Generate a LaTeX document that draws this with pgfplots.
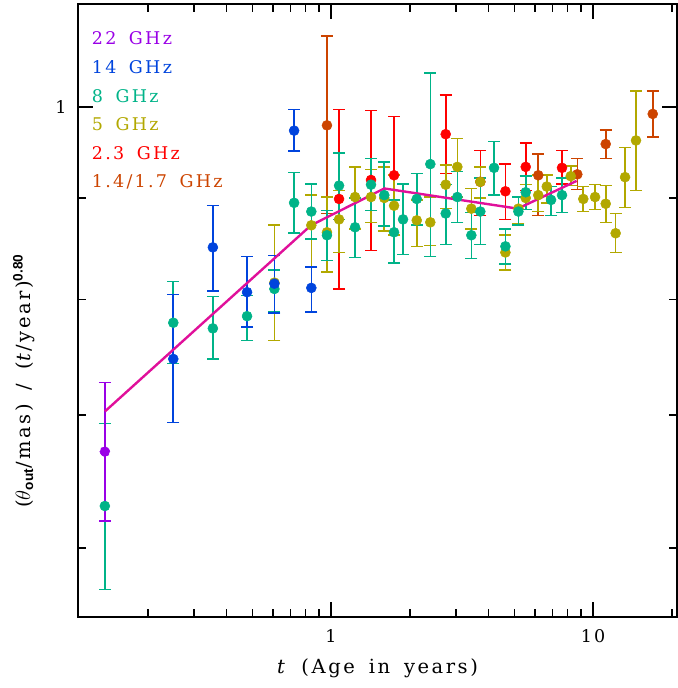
\documentclass[border=0pt]{standalone}
\usepackage{fontspec}
\setmainfont{DejaVu Serif}[LetterSpace=13, WordSpace=1.6]
\setsansfont{Liberation Sans}
\usepackage{pgfplots}
\pgfplotsset{compat=1.18}
\definecolor{cA}{RGB}{153,0,230}
\definecolor{cB}{RGB}{0,68,221}
\definecolor{cC}{RGB}{0,179,136}
\definecolor{cD}{RGB}{178,168,0}
\definecolor{cE}{RGB}{255,0,0}
\definecolor{cF}{RGB}{204,68,0}
\definecolor{cfit}{RGB}{224,16,154}
\pgfplotsset{ser/.style={color=#1, only marks, mark=*, mark size=5bp,
  mark options={fill=#1, draw=#1, line width=0.5bp},
  error bars/.cd, y dir=both, y explicit,
  error bar style={line width=1.6bp, color=#1, solid},
  error mark options={line width=1.6bp, mark size=6bp, color=#1, rotate=90, solid}}}
\newcommand{\bigf}{\fontsize{17.5bp}{21bp}\selectfont}
\newcommand{\labf}{\fontsize{19.5bp}{23bp}\selectfont}
\begin{document}
\begin{tikzpicture}
\begin{axis}[name=ax, xmode=log, ymode=log, scale only axis,
  width=599bp, height=613bp,
  xmin=0.1082, xmax=20.92, ymin=0.554, ymax=1.1267,
  xtick={1,10}, xticklabels={1,10},
  minor xtick={0.2,0.3,0.4,0.5,0.6,0.7,0.8,0.9,2,3,4,5,6,7,8,9,20},
  ytick={1}, yticklabels={1},
  minor ytick={0.6,0.7,0.8,0.9},
  tick align=inside, tick pos=both,
  major tick length=15bp, minor tick length=8bp,
  every tick/.style={black, line width=1.3bp},
  axis line style={line width=2bp},
  tick label style={font=\bigf},
  xticklabel style={yshift=-9bp},
  yticklabel style={xshift=-8bp},
  xlabel={\textit{t} (Age in years)},
  ylabel={($\theta$\textsubscript{\sffamily\bfseries out}/mas) / (\textit{t}/year)\textsuperscript{\sffamily\bfseries 0.80}},
  label style={font=\labf},
  xlabel style={at={(axis description cs:0.5,-0.083)}, anchor=center},
  ylabel style={at={(axis description cs:-0.0905,0.385)}, anchor=center},
]
% 1.4/1.7 GHz
\addplot+[ser=cF] table[x=x,y=y,y error plus=ep,y error minus=em] {
x y ep em
0.965 0.979 0.107 0.095
6.18 0.924 0.023 0.042
8.71 0.925 0.017 0.016
11.18 0.958 0.016 0.016
16.9 0.992 0.027 0.026
};
% 2.3 GHz
\addplot+[ser=cE] table[x=x,y=y,y error plus=ep,y error minus=em] {
x y ep em
1.073 0.899 0.098 0.089
1.421 0.919 0.077 0.072
1.740 0.924 0.065 0.062
2.740 0.969 0.045 0.043
3.714 0.917 0.034 0.035
4.63 0.907 0.029 0.029
5.535 0.933 0.026 0.025
7.615 0.932 0.019 0.017
};
% 5 GHz
\addplot+[ser=cD] table[x=x,y=y,y error plus=ep,y error minus=em] {
x y ep em
0.608 0.816 0.056 0.053
0.841 0.872 0.031 0.041
0.965 0.865 0.036 0.039
1.073 0.878 0.030 0.033
1.235 0.901 0.032 0.033
1.421 0.901 0.029 0.026
1.597 0.900 0.033 0.034
1.740 0.892 0.032 0.030
2.124 0.877 0.021 0.026
2.393 0.875 0.026 0.023
2.740 0.914 0.021 0.025
3.035 0.933 0.031 0.032
3.432 0.889 0.021 0.021
3.714 0.917 0.016 0.017
4.63 0.845 0.017 0.017
5.19 0.889 0.012 0.015
5.535 0.900 0.014 0.012
6.18 0.903 0.021 0.017
6.66 0.912 0.012 0.017
8.22 0.923 0.011 0.010
9.18 0.899 0.013 0.013
10.18 0.901 0.013 0.013
11.18 0.894 0.019 0.019
12.2 0.864 0.020 0.019
13.25 0.922 0.032 0.032
14.59 0.962 0.057 0.054
};
% 8 GHz
\addplot+[ser=cC] table[x=x,y=y,y error plus=ep,y error minus=em] {
x y ep em
0.137 0.630 0.063 0.058
0.250 0.779 0.038 0.036
0.354 0.774 0.029 0.027
0.478 0.785 0.019 0.022
0.608 0.810 0.018 0.021
0.723 0.895 0.032 0.031
0.841 0.886 0.029 0.028
0.965 0.862 0.025 0.025
1.073 0.913 0.035 0.035
1.235 0.870 0.030 0.030
1.421 0.914 0.028 0.027
1.597 0.903 0.035 0.032
1.740 0.865 0.033 0.030
1.883 0.878 0.037 0.035
2.124 0.899 0.027 0.027
2.393 0.936 0.104 0.095
2.740 0.884 0.030 0.031
3.035 0.901 0.027 0.026
3.432 0.862 0.023 0.023
3.714 0.886 0.035 0.033
4.19 0.932 0.029 0.029
4.63 0.851 0.017 0.017
5.19 0.886 0.015 0.014
5.535 0.906 0.017 0.018
6.915 0.898 0.014 0.016
7.615 0.903 0.018 0.018
};
% 14 GHz
\addplot+[ser=cB] table[x=x,y=y,y error plus=ep,y error minus=em] {
x y ep em
0.250 0.747 0.058 0.053
0.354 0.850 0.042 0.042
0.478 0.807 0.034 0.032
0.608 0.815 0.027 0.027
0.723 0.973 0.024 0.023
0.841 0.811 0.020 0.022
};
% 22 GHz
\addplot+[ser=cA] table[x=x,y=y,y error plus=ep,y error minus=em] {
x y ep em
0.137 0.671 0.056 0.052
};
% fit
\addplot[cfit, line width=2.4bp, mark=none] table {
x y
0.1372 0.703
0.839 0.872
1.597 0.910
5.16 0.889
8.66 0.918
};
\node[anchor=west, inner sep=0, text=cA, font=\bigf] at (axis description cs:0.0229,0.9445) {22 GHz};
\node[anchor=west, inner sep=0, text=cB, font=\bigf] at (axis description cs:0.0229,0.8975) {14 GHz};
\node[anchor=west, inner sep=0, text=cC, font=\bigf] at (axis description cs:0.0229,0.8505) {8 GHz};
\node[anchor=west, inner sep=0, text=cD, font=\bigf] at (axis description cs:0.0229,0.8035) {5 GHz};
\node[anchor=west, inner sep=0, text=cE, font=\bigf] at (axis description cs:0.0229,0.7565) {2.3 GHz};
\node[anchor=west, inner sep=0, text=cF, font=\bigf] at (axis description cs:0.0229,0.7095) {1.4/1.7 GHz};
\end{axis}
\pgfresetboundingbox
\path ([xshift=-78bp,yshift=-71bp]ax.south west) rectangle ([yshift=4bp]ax.north east);
\end{tikzpicture}
\end{document}
